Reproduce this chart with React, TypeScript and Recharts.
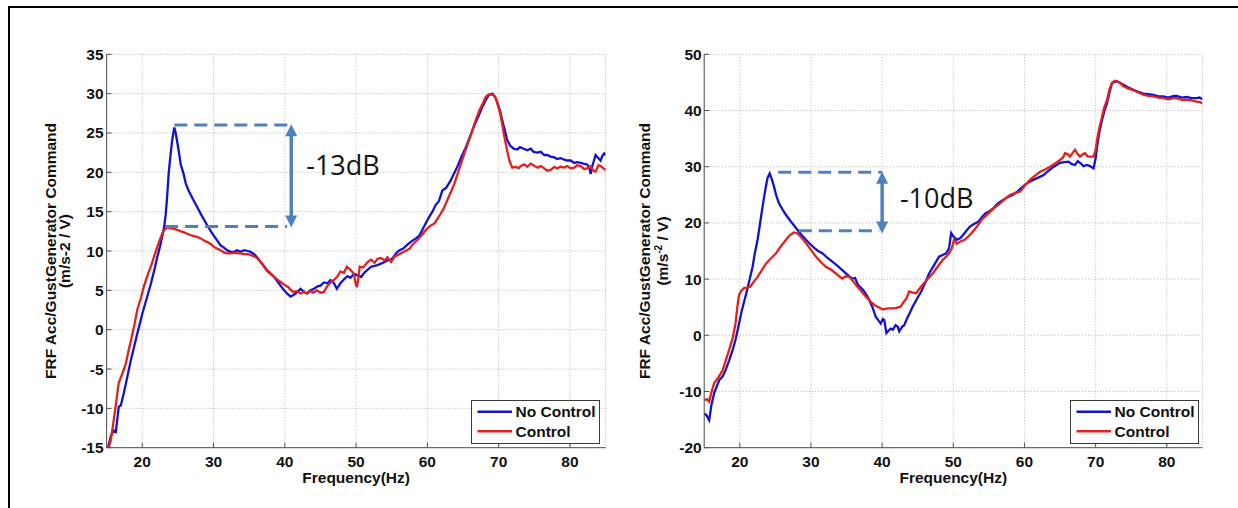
import React from 'react';
import { LineChart, Line, XAxis, YAxis, CartesianGrid, ReferenceLine, ReferenceDot, Legend } from 'recharts';

const FONT = '"Liberation Sans", Arial, Helvetica, sans-serif';
const ANNOT_FONT = '"Open Sans", "Noto Sans", sans-serif';
const BLUE = '#1212d4';
const RED = '#e3201c';
const ANNOT = '#4f81bd';
const AXIS = '#505050';
const GRID = '#b4b4b4';
const TXT = '#111111';
const FS = 15.5;

// ---------- text ----------
const leftTitle = 'Rotation 5309 - Mach=0.3 - AoA=0°';
const rightTitle = 'Rotation 5321/5322 - Mach=0.73 - AoA=0°';
const xLabel = 'Frequency(Hz)';
const yLabelMain = 'FRF Acc/GustGenerator Command';
const seriesNames = ['No Control', 'Control'];
const leftGain = '-13dB';
const rightGain = '-10dB';

// ---------- axes ----------
const xDomain: [number, number] = [15, 85];
const xTicks = [20, 30, 40, 50, 60, 70, 80];
const leftYDomain: [number, number] = [-15, 35];
const leftYTicks = [-15, -10, -5, 0, 5, 10, 15, 20, 25, 30, 35];
const rightYDomain: [number, number] = [-20, 50];
const rightYTicks = [-20, -10, 0, 10, 20, 30, 40, 50];

// ---------- series: [frequency Hz, FRF] ----------
const leftNoControl: [number, number][] = [
  [15.2, -15.0], [15.6, -13.5], [16.0, -12.8], [16.3, -13.0], [16.7, -9.8], [17.0, -9.6], [17.4, -8.1], [17.9, -6.0],
  [18.4, -3.9], [18.9, -2.0], [19.3, -0.5], [19.7, 0.9], [20.0, 2.0], [20.6, 3.9], [21.2, 5.8], [21.7, 7.6],
  [22.1, 9.2], [22.5, 10.6], [22.8, 11.8], [23.1, 13.2], [23.3, 14.7], [23.5, 17.0], [23.7, 19.8], [24.0, 22.5],
  [24.2, 24.1], [24.5, 25.7], [24.7, 25.0], [25.1, 22.8], [25.4, 21.0], [25.8, 19.8], [26.1, 18.6], [26.5, 17.7],
  [27.1, 16.6], [27.7, 15.6], [28.4, 14.4], [29.1, 13.3], [29.7, 12.4], [30.3, 11.6], [31.0, 10.7], [31.5, 10.4],
  [31.9, 10.1], [32.4, 9.9], [32.9, 9.9], [33.3, 10.1], [33.8, 9.9], [34.3, 10.1], [34.8, 10.0], [35.2, 9.9],
  [35.7, 9.6], [36.1, 9.2], [36.8, 8.4], [37.5, 7.5], [38.0, 7.1], [38.5, 6.7], [39.0, 6.1], [39.4, 5.6],
  [39.9, 5.0], [40.3, 4.6], [40.8, 4.2], [41.2, 4.4], [41.5, 4.6], [41.9, 4.9], [42.2, 5.2], [42.7, 4.8],
  [43.1, 4.6], [43.6, 5.0], [44.1, 5.2], [44.6, 5.5], [45.0, 5.6], [45.5, 6.0], [46.0, 5.9], [46.4, 6.3],
  [46.9, 5.9], [47.3, 5.2], [47.8, 5.9], [48.3, 6.4], [48.8, 6.8], [49.2, 6.6], [49.7, 7.1], [50.2, 6.9],
  [50.7, 6.7], [51.2, 7.3], [51.6, 7.6], [52.1, 8.0], [52.6, 8.1], [53.0, 8.2], [53.5, 8.4], [54.0, 8.6],
  [54.4, 8.8], [54.9, 8.9], [55.3, 9.3], [55.7, 9.8], [56.1, 10.1], [56.6, 10.3], [57.2, 10.8], [57.7, 11.2],
  [58.4, 11.6], [58.9, 12.0], [59.3, 12.7], [59.8, 13.6], [60.3, 14.4], [60.7, 15.0], [61.2, 15.9], [61.6, 16.3],
  [62.1, 17.7], [62.6, 18.0], [63.3, 19.0], [63.7, 19.8], [64.2, 20.7], [64.8, 22.0], [65.4, 23.2], [66.0, 24.6],
  [66.6, 26.0], [67.1, 27.0], [67.7, 28.3], [68.2, 29.2], [68.6, 29.8], [69.1, 30.0], [69.5, 29.6], [69.8, 28.9],
  [70.2, 27.8], [70.5, 26.6], [70.9, 25.2], [71.2, 24.1], [71.6, 23.4], [72.1, 23.0], [72.6, 22.9], [73.0, 23.2],
  [73.5, 23.0], [74.0, 22.8], [74.5, 23.0], [74.9, 22.6], [75.4, 22.5], [75.9, 22.6], [76.4, 22.2], [76.8, 22.2],
  [77.3, 22.0], [77.8, 21.9], [78.2, 21.7], [78.7, 21.8], [79.2, 21.6], [79.6, 21.5], [80.1, 21.5], [80.6, 21.2],
  [81.0, 21.3], [81.5, 21.2], [81.9, 21.1], [82.4, 21.0], [82.7, 20.6], [82.9, 19.8], [83.2, 21.0], [83.6, 22.2],
  [84.0, 21.8], [84.3, 21.5], [84.5, 22.0], [84.8, 22.4], [85.0, 22.2],
];

const leftControl: [number, number][] = [
  [15.3, -15.0], [15.6, -14.0], [16.0, -11.5], [16.3, -9.5], [16.7, -6.8], [17.2, -5.6], [17.7, -4.3], [18.0, -3.0],
  [18.4, -1.4], [18.9, 0.6], [19.3, 2.5], [19.8, 4.0], [20.2, 5.4], [20.7, 6.8], [21.2, 8.0], [21.7, 9.4],
  [22.1, 10.5], [22.5, 11.5], [22.8, 12.2], [23.1, 12.7], [23.5, 13.0], [23.9, 12.9], [24.4, 12.8], [24.9, 12.7],
  [25.4, 12.5], [25.8, 12.4], [26.3, 12.2], [26.8, 12.0], [27.3, 11.9], [27.7, 11.8], [28.2, 11.6], [28.7, 11.3],
  [29.2, 11.1], [29.6, 10.9], [30.1, 10.5], [30.5, 10.3], [31.0, 10.1], [31.5, 9.8], [32.0, 9.7], [32.4, 9.7],
  [32.9, 9.8], [33.4, 9.7], [33.8, 9.7], [34.3, 9.6], [34.8, 9.6], [35.2, 9.5], [35.7, 9.3], [36.1, 9.1],
  [36.8, 8.4], [37.5, 7.6], [38.2, 7.0], [38.9, 6.4], [39.5, 6.0], [40.1, 5.6], [40.5, 5.4], [40.8, 5.1],
  [41.2, 4.8], [41.7, 4.9], [42.2, 4.6], [42.7, 4.8], [43.1, 4.6], [43.6, 4.9], [44.0, 4.7], [44.5, 5.0],
  [45.0, 4.7], [45.5, 4.8], [46.0, 5.6], [46.5, 6.1], [46.9, 6.3], [47.4, 6.8], [47.8, 7.4], [48.3, 7.2],
  [48.7, 8.0], [49.2, 7.6], [49.7, 7.1], [49.9, 6.0], [50.1, 5.4], [50.3, 6.4], [50.5, 8.0], [51.0, 7.9],
  [51.6, 8.6], [52.1, 8.9], [52.6, 8.5], [53.0, 9.0], [53.5, 9.1], [54.0, 8.8], [54.4, 9.2], [54.9, 8.6],
  [55.4, 9.3], [55.9, 9.5], [56.3, 9.7], [56.9, 10.0], [57.5, 10.3], [58.0, 10.9], [58.6, 11.4], [59.2, 12.0],
  [59.8, 12.7], [60.4, 13.2], [61.0, 13.5], [61.5, 14.2], [61.9, 14.8], [62.4, 15.6], [62.8, 16.5], [63.3, 17.5],
  [63.8, 18.6], [64.5, 20.5], [65.2, 22.4], [65.8, 24.0], [66.3, 25.3], [66.8, 26.7], [67.3, 27.9], [67.8, 28.8],
  [68.2, 29.6], [68.6, 29.9], [68.9, 29.9], [69.3, 29.8], [69.6, 29.4], [69.9, 28.5], [70.2, 27.5], [70.5, 26.1],
  [70.8, 24.5], [71.2, 22.7], [71.5, 21.5], [71.9, 20.6], [72.4, 20.7], [72.8, 20.5], [73.1, 20.8], [73.6, 21.0],
  [74.0, 20.7], [74.5, 21.1], [75.0, 20.8], [75.5, 20.6], [75.9, 20.8], [76.4, 20.5], [76.8, 20.2], [77.3, 20.3],
  [77.8, 20.7], [78.2, 20.5], [78.7, 20.7], [79.2, 20.6], [79.6, 20.8], [80.1, 20.5], [80.6, 20.6], [81.0, 20.9],
  [81.5, 20.8], [82.0, 20.4], [82.4, 20.5], [82.9, 20.8], [83.3, 20.2], [83.6, 20.1], [84.0, 20.9], [84.3, 20.8],
  [84.7, 20.5], [85.0, 20.3],
];

const rightNoControl: [number, number][] = [
  [15.0, -13.9], [15.3, -14.2], [15.7, -15.1], [16.0, -12.5], [16.4, -10.3], [16.8, -9.0], [17.1, -8.0], [17.6, -7.3],
  [18.0, -6.2], [18.5, -4.5], [19.0, -2.6], [19.4, -0.8], [19.9, 2.1], [20.3, 4.5], [20.8, 6.9], [21.3, 9.5],
  [21.8, 12.2], [22.1, 14.5], [22.5, 17.0], [22.8, 19.5], [23.2, 22.9], [23.6, 26.0], [23.9, 28.0], [24.2, 28.8],
  [24.5, 27.8], [24.8, 26.5], [25.1, 25.0], [25.5, 23.5], [26.0, 22.4], [26.5, 21.4], [27.2, 20.2], [27.9, 19.1],
  [28.6, 18.0], [29.3, 17.0], [29.9, 16.2], [30.5, 15.5], [31.0, 15.0], [31.6, 14.6], [32.3, 13.8], [33.0, 13.1],
  [33.7, 12.4], [34.4, 11.6], [35.1, 10.8], [35.8, 10.1], [36.2, 10.2], [36.6, 9.0], [37.3, 8.1], [37.8, 7.2],
  [38.2, 6.3], [38.7, 4.8], [39.1, 3.3], [39.5, 2.6], [39.8, 2.1], [40.1, 2.9], [40.3, 2.7], [40.6, 0.4],
  [40.9, 0.8], [41.2, 1.2], [41.5, 1.0], [41.9, 1.8], [42.2, 1.5], [42.4, 0.7], [42.8, 1.5], [43.1, 1.8],
  [43.5, 3.0], [43.9, 4.0], [44.3, 5.1], [44.9, 6.5], [45.5, 7.8], [46.0, 9.2], [46.6, 11.0], [47.3, 12.5],
  [48.0, 14.0], [48.5, 14.3], [49.0, 14.6], [49.4, 15.5], [49.7, 18.2], [50.0, 17.6], [50.5, 17.0], [51.0, 17.3],
  [51.4, 17.9], [51.9, 18.7], [52.3, 19.3], [52.9, 19.8], [53.5, 20.2], [54.0, 21.0], [54.5, 21.7], [55.0, 22.0],
  [55.6, 22.6], [56.3, 23.5], [57.0, 24.1], [57.7, 24.6], [58.4, 25.0], [59.1, 25.7], [59.8, 26.5], [60.5, 27.2],
  [61.3, 27.7], [62.0, 28.1], [62.7, 28.5], [63.2, 29.1], [63.8, 29.7], [64.4, 30.2], [65.0, 30.7], [65.6, 30.8],
  [66.2, 30.9], [66.6, 30.5], [67.1, 30.3], [67.5, 31.0], [67.8, 30.7], [68.3, 30.1], [68.8, 30.3], [69.2, 30.1],
  [69.7, 29.7], [70.0, 31.5], [70.2, 33.6], [70.5, 36.0], [70.9, 38.3], [71.2, 39.8], [71.6, 41.3], [72.0, 43.5],
  [72.3, 44.9], [72.7, 45.1], [73.0, 45.2], [73.5, 44.9], [73.9, 44.6], [74.6, 44.1], [75.3, 43.7], [76.0, 43.3],
  [76.7, 43.0], [77.4, 42.9], [78.1, 42.8], [78.8, 42.5], [79.5, 42.5], [80.2, 42.3], [81.0, 42.6], [81.4, 42.6],
  [82.1, 42.3], [82.8, 42.4], [83.5, 42.2], [84.2, 42.2], [84.6, 42.3], [85.0, 42.0],
];

const rightControl: [number, number][] = [
  [15.0, -11.5], [15.4, -11.4], [15.7, -11.8], [16.0, -10.2], [16.4, -8.5], [17.0, -7.5], [17.6, -6.2], [18.0, -4.6],
  [18.5, -2.6], [19.0, -0.5], [19.4, 2.1], [19.7, 5.5], [19.9, 7.2], [20.2, 7.9], [20.6, 8.4], [21.0, 8.5],
  [21.5, 8.7], [22.0, 9.6], [22.5, 10.4], [23.1, 11.6], [23.7, 12.8], [24.4, 13.7], [25.1, 14.6], [25.8, 15.9],
  [26.5, 17.0], [27.0, 17.8], [27.6, 18.3], [28.0, 18.2], [28.3, 17.9], [28.8, 17.2], [29.3, 16.4], [30.0, 15.2],
  [30.7, 14.0], [31.4, 13.0], [32.1, 12.2], [32.8, 11.7], [33.5, 11.0], [34.0, 10.5], [34.4, 10.1], [34.9, 10.5],
  [35.4, 10.4], [36.0, 9.5], [36.5, 8.7], [37.1, 7.8], [37.7, 6.9], [38.3, 6.1], [38.9, 5.4], [39.5, 5.0],
  [40.1, 4.6], [40.8, 4.8], [41.5, 4.8], [42.0, 4.9], [42.6, 5.1], [43.0, 5.9], [43.4, 6.5], [43.8, 7.8],
  [44.3, 7.6], [44.8, 7.5], [45.2, 8.2], [45.7, 9.0], [46.4, 10.0], [47.1, 11.0], [47.8, 12.2], [48.5, 13.4],
  [49.0, 14.0], [49.4, 14.6], [49.8, 15.5], [50.1, 17.0], [50.5, 16.3], [51.0, 16.7], [51.6, 17.0], [52.2, 17.7],
  [52.8, 18.5], [53.4, 19.5], [54.0, 20.6], [54.6, 21.3], [55.2, 22.0], [55.9, 22.8], [56.6, 23.5], [57.3, 24.3],
  [58.0, 25.0], [58.7, 25.3], [59.4, 25.6], [60.1, 26.7], [60.8, 27.7], [61.5, 28.4], [62.2, 29.1], [62.9, 29.5],
  [63.6, 30.0], [64.3, 30.6], [65.0, 31.2], [65.4, 31.6], [65.7, 32.4], [66.1, 32.2], [66.4, 31.8], [66.8, 32.5],
  [67.1, 33.0], [67.5, 32.2], [67.8, 31.8], [68.2, 32.2], [68.5, 32.4], [68.9, 31.8], [69.2, 31.8], [69.7, 31.8],
  [70.0, 33.0], [70.2, 34.8], [70.5, 36.8], [70.9, 38.9], [71.2, 40.5], [71.6, 41.9], [72.0, 44.0], [72.3, 44.9],
  [72.7, 45.3], [73.0, 45.2], [73.5, 44.8], [73.9, 44.3], [74.6, 43.9], [75.3, 43.6], [76.0, 43.2], [76.7, 42.8],
  [77.4, 42.6], [78.1, 42.5], [78.8, 42.3], [79.5, 42.2], [80.2, 42.0], [81.0, 42.2], [81.4, 42.2], [82.1, 41.9],
  [82.8, 41.9], [83.5, 41.8], [84.2, 41.6], [84.6, 41.5], [85.0, 41.3],
];

// ---------- annotations: [freq, level] ----------
const leftDashTop: [number, number][] = [[24.5, 26.0], [41.0, 26.0]];
const leftDashBottom: [number, number][] = [[23.2, 13.1], [40.3, 13.1]];
const leftArrow: [number, number][] = [[40.9, 26.1], [40.9, 13.0]];
const leftGainPos: [number, number] = [43.0, 19.65];

const rightDashTop: [number, number][] = [[25.4, 29.0], [40.0, 29.0]];
const rightDashBottom: [number, number][] = [[28.3, 18.6], [39.6, 18.6]];
const rightArrow: [number, number][] = [[40.0, 29.1], [40.0, 18.1]];
const rightGainPos: [number, number] = [42.5, 22.6];

const toPoints = (arr: [number, number][]) => arr.map(([f, v]) => ({ f, v }));
const toSeg = (arr: [number, number][]) => arr.map(([x, y]) => ({ x, y }));

const ArrowShape = (props: any) => {
  const { x1, y1, x2, y2 } = props;
  const top = Math.min(y1, y2);
  const bot = Math.max(y1, y2);
  const x = x1;
  const hw = 6;
  const hl = 12;
  return (
    <g>
      <line x1={x} x2={x} y1={top + hl - 1} y2={bot - hl + 1} stroke={ANNOT} strokeWidth={3.5} />
      <polygon points={`${x},${top} ${x - hw},${top + hl} ${x + hw},${top + hl}`} fill={ANNOT} />
      <polygon points={`${x},${bot} ${x - hw},${bot - hl} ${x + hw},${bot - hl}`} fill={ANNOT} />
    </g>
  );
};

const LegendBox = () => (
  <div style={{ width: 129, height: 44, position: 'relative' }}>
    <svg width={129} height={44} style={{ position: 'absolute', left: 0, top: 0, overflow: 'visible' }}>
      <rect x={0.5} y={0.5} width={128} height={43} fill="#ffffff" stroke="#3a3a3a" strokeWidth={1} />
      <line x1={6.5} x2={41} y1={11.8} y2={11.8} stroke={BLUE} strokeWidth={2.5} />
      <line x1={6.5} x2={41} y1={31.2} y2={31.2} stroke={RED} strokeWidth={2.5} />
      <text x={44.5} y={17.2} fontFamily={FONT} fontWeight={700} fontSize={FS} fill={TXT}>{seriesNames[0]}</text>
      <text x={44.5} y={36.6} fontFamily={FONT} fontWeight={700} fontSize={FS} fill={TXT}>{seriesNames[1]}</text>
    </svg>
  </div>
);

type PanelProps = {
  left: number;
  plotLeft: number;
  plotRight: number;
  title: string;
  yDomain: [number, number];
  yTicks: number[];
  noCtrl: [number, number][];
  ctrl: [number, number][];
  dashTop: [number, number][];
  dashBottom: [number, number][];
  arrow: [number, number][];
  gainPos: [number, number];
  gainText: string;
  yLabelX: [number, number];
  superscript: boolean;
  yTickMargin: number;
  legendLeft: number;
};

const W = 620;
const H = 508;
const PLOT_TOP = 54.3;
const PLOT_BOTTOM = 447.7;
const Y_AXIS_W = 60;
const X_AXIS_H = 30;

const Panel = (p: PanelProps) => {
  const cx = (p.plotLeft + p.plotRight) / 2;
  const cy = (PLOT_TOP + PLOT_BOTTOM) / 2;
  const tickStyle = { fill: TXT, fontSize: FS, fontWeight: 700, fontFamily: FONT };
  const txtProps = { fontFamily: FONT, fontWeight: 700, fontSize: FS, fill: TXT, textAnchor: 'middle' as const };
  return (
    <div style={{ position: 'absolute', left: p.left, top: 0, width: W, height: H }}>
      <LineChart
        width={W}
        height={H}
        margin={{ top: PLOT_TOP, right: W - p.plotRight, bottom: H - PLOT_BOTTOM - X_AXIS_H, left: p.plotLeft - Y_AXIS_W }}
      >
        <CartesianGrid xAxisId="b" yAxisId="l" stroke={GRID} strokeDasharray="1 2" />
        <XAxis
          xAxisId="b"
          type="number"
          dataKey="f"
          domain={xDomain}
          ticks={xTicks}
          interval={0}
          allowDataOverflow
          height={X_AXIS_H}
          tickSize={-5}
          tickMargin={13}
          stroke={AXIS}
          tick={tickStyle}
          label={() => (
            <text x={cx} y={482.5} {...txtProps}>{xLabel}</text>
          )}
        />
        <XAxis
          xAxisId="t"
          orientation="top"
          type="number"
          domain={xDomain}
          ticks={xTicks}
          interval={0}
          allowDataOverflow
          height={0}
          tickSize={-5}
          tickFormatter={() => ''}
          stroke={AXIS}
          label={() => (
            <text x={cx} y={42} {...txtProps}>{p.title}</text>
          )}
        />
        <YAxis
          yAxisId="l"
          type="number"
          domain={p.yDomain}
          ticks={p.yTicks}
          interval={0}
          allowDataOverflow
          width={Y_AXIS_W}
          tickSize={-5}
          tickMargin={p.yTickMargin}
          stroke={AXIS}
          tick={tickStyle}
          label={() => (
            <g>
              <text x={p.yLabelX[0]} y={cy} transform={`rotate(-90 ${p.yLabelX[0]} ${cy})`} {...txtProps}>{yLabelMain}</text>
              {p.superscript ? (
                <text x={p.yLabelX[1]} y={cy} transform={`rotate(-90 ${p.yLabelX[1]} ${cy})`} {...txtProps}>
                  (m/s<tspan fontSize={10} dy={-6}>-2</tspan><tspan fontSize={FS} dy={6}> / V)</tspan>
                </text>
              ) : (
                <text x={p.yLabelX[1]} y={cy} transform={`rotate(-90 ${p.yLabelX[1]} ${cy})`} {...txtProps}>(m/s-2 / V)</text>
              )}
            </g>
          )}
        />
        <YAxis
          yAxisId="r"
          orientation="right"
          type="number"
          domain={p.yDomain}
          ticks={p.yTicks}
          interval={0}
          allowDataOverflow
          width={0}
          tickSize={-5}
          tickFormatter={() => ''}
          stroke={AXIS}
        />
        <Line
          xAxisId="b"
          yAxisId="l"
          data={toPoints(p.noCtrl)}
          dataKey="v"
          name={seriesNames[0]}
          stroke={BLUE}
          strokeWidth={2.3}
          dot={false}
          activeDot={false}
          type="linear"
          isAnimationActive={false}
        />
        <Line
          xAxisId="b"
          yAxisId="l"
          data={toPoints(p.ctrl)}
          dataKey="v"
          name={seriesNames[1]}
          stroke={RED}
          strokeWidth={2.3}
          dot={false}
          activeDot={false}
          type="linear"
          isAnimationActive={false}
        />
        <ReferenceLine xAxisId="b" yAxisId="l" segment={toSeg(p.dashTop)} stroke={ANNOT} strokeWidth={3} strokeDasharray="13 7" />
        <ReferenceLine xAxisId="b" yAxisId="l" segment={toSeg(p.dashBottom)} stroke={ANNOT} strokeWidth={3} strokeDasharray="13 7" />
        <ReferenceLine xAxisId="b" yAxisId="l" segment={toSeg(p.arrow)} shape={ArrowShape} />
        <ReferenceDot
          xAxisId="b"
          yAxisId="l"
          x={p.gainPos[0]}
          y={p.gainPos[1]}
          r={0}
          shape={(s: any) => (
            <text x={s.cx} y={s.cy} fontFamily={ANNOT_FONT} fontSize={27} fill="#141414">{p.gainText}</text>
          )}
        />
        <Legend
          layout="vertical"
          align="center"
          verticalAlign="middle"
          wrapperStyle={{ position: 'absolute', left: p.legendLeft, top: 400, width: 129, height: 44 }}
          content={() => <LegendBox />}
        />
      </LineChart>
    </div>
  );
};

export default function App() {
  return (
    <div style={{ position: 'absolute', left: 0, top: 0, width: 1238, height: 508, background: '#ffffff', overflow: 'hidden' }}>
      <div style={{ position: 'absolute', left: 8, top: 6, width: 1300, height: 600, borderLeft: '2px solid #000', borderTop: '2px solid #000' }} />
      <Panel
        left={0}
        plotLeft={106.6}
        plotRight={605.6}
        title={leftTitle}
        yDomain={leftYDomain}
        yTicks={leftYTicks}
        noCtrl={leftNoControl}
        ctrl={leftControl}
        dashTop={leftDashTop}
        dashBottom={leftDashBottom}
        arrow={leftArrow}
        gainPos={leftGainPos}
        gainText={leftGain}
        yLabelX={[55.5, 70.3]}
        superscript={false}
        yTickMargin={8}
        legendLeft={471}
      />
      <Panel
        left={618}
        plotLeft={86.2}
        plotRight={584.4}
        title={rightTitle}
        yDomain={rightYDomain}
        yTicks={rightYTicks}
        noCtrl={rightNoControl}
        ctrl={rightControl}
        dashTop={rightDashTop}
        dashBottom={rightDashBottom}
        arrow={rightArrow}
        gainPos={rightGainPos}
        gainText={rightGain}
        yLabelX={[31.6, 49.5]}
        superscript={true}
        yTickMargin={7.5}
        legendLeft={451.6}
      />
    </div>
  );
}
